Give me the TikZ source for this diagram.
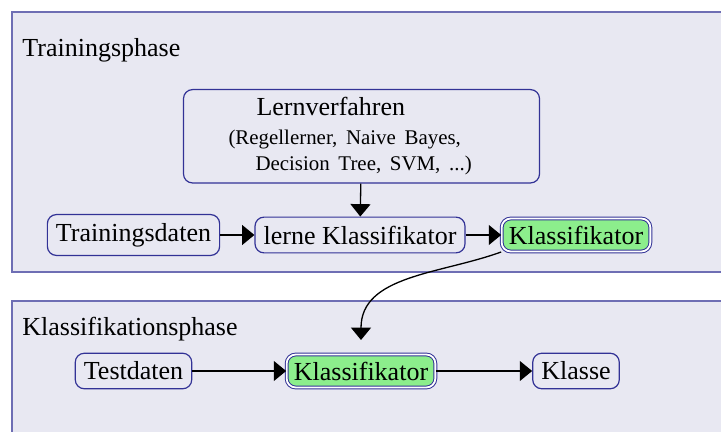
\documentclass[tikz,border=0pt]{standalone}
\usepackage{fontspec}
\setmainfont{Liberation Serif}
\usetikzlibrary{arrows.meta}
\definecolor{panelfill}{RGB}{232,232,242}
\definecolor{panelline}{RGB}{110,110,180}
\definecolor{boxline}{RGB}{50,50,150}
\definecolor{modelgreen}{RGB}{140,238,140}
\tikzset{
  panel/.style={draw=panelline, fill=panelfill, line width=0.8pt},
  stage/.style={draw=boxline, fill=panelfill, rounded corners=4.5pt, line width=0.6pt,
    inner xsep=4.3pt, inner ysep=4.3pt, font=\fontsize{13}{15}\selectfont},
  model/.style={stage, fill=modelgreen, double=white, double distance=0.9pt, line width=0.5pt,
    inner xsep=3.6pt, inner ysep=3.6pt},
  flow/.style={line width=0.65pt, -{Triangle[length=6.2pt, width=10pt]}},
  phase/.style={anchor=base west, inner sep=0pt, font=\fontsize{13}{15}\selectfont}
}
\newcommand{\methodfont}{\fontsize{10.45}{12}\selectfont\frenchspacing}
\begin{document}
\begin{tikzpicture}[x=0.5pt, y=-0.5pt]
  \useasboundingbox (0,0) rectangle (721,432);
  % phase panels (running off the right and bottom edge)
  \fill[white] (0,0) rectangle (721,432);
  \draw[panel] (12,12) rectangle (740,272);
  \draw[panel] (12,301) rectangle (740,450);
  \node[phase] (ptrain) at (22,57) {Trainingsphase};
  \node[phase] (pclass) at (22,335) {Klassifikationsphase};

  % training phase
  \node[stage, anchor=north, align=left, text width=133pt, inner xsep=22.5pt, inner ysep=3.9pt] (lern) at (361.5,89)
    {\hspace*{14pt}Lernverfahren\\[2.5pt]
     \methodfont (Regellerner, Naive Bayes,\\[-2pt]
     \methodfont\hspace*{13.5pt}Decision Tree, SVM, ...)};
  \node[stage] (train) at (133.5,235) {Trainingsdaten};
  \node[stage] (lerne) at (360,235) {lerne Klassifikator};
  \node[model] (clf1) at (576,235) {Klassifikator};

  % classification phase
  \node[stage] (test) at (133.5,371) {Testdaten};
  \node[model] (clf2) at (361,371) {Klassifikator};
  \node[stage] (klasse) at (576,371) {Klasse};
  \coordinate (drop) at (361,340);

  \draw[flow] (lern) -- (lerne);
  \draw[flow] (train) -- (lerne);
  \draw[flow] (lerne) -- (clf1);
  \draw[flow] (clf1.south west) to[out=200, in=90] (drop);
  \draw[flow] (test) -- (clf2);
  \draw[flow] (clf2) -- (klasse);
\end{tikzpicture}
\end{document}
